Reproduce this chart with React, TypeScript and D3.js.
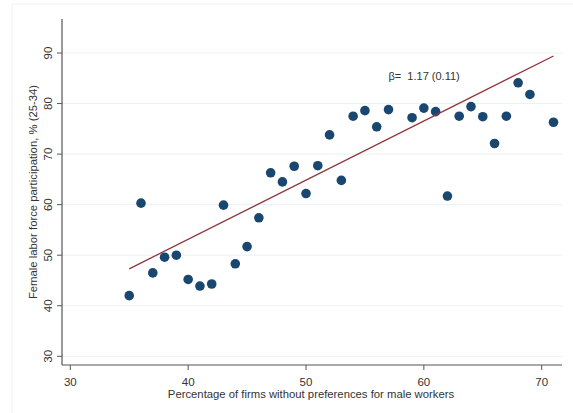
import React from "react";
import * as d3 from "d3";

const xValues = [35, 36, 37, 38, 39, 40, 41, 42, 43, 44, 45, 46, 47, 48, 49, 50, 51, 52, 53, 54, 55, 56, 57, 59, 60, 61, 62, 63, 64, 65, 66, 67, 68, 69, 71];
const yValues = [42.0, 60.3, 46.5, 49.6, 50.0, 45.2, 43.9, 44.3, 59.9, 48.3, 51.7, 57.4, 66.3, 64.5, 67.6, 62.2, 67.7, 73.8, 64.8, 77.5, 78.6, 75.4, 78.8, 77.2, 79.1, 78.4, 61.7, 77.5, 79.4, 77.4, 72.1, 77.5, 84.1, 81.8, 76.3];
const fitX = [35, 71];
const fitY = [47.3, 89.4];
const xTicks = [30, 40, 50, 60, 70];
const yTicks = [30, 40, 50, 60, 70, 80, 90];
const annotation = "β=  1.17 (0.11)";
const annotationPos = [57.0, 84.7];
const xTitle = "Percentage of firms without preferences for male workers";
const yTitle = "Female labor force participation, % (25-34)";

const W = 573;
const H = 413;
const left = 62;
const right = 562;
const top = 19;
const bottom = 365;

export default function App() {
  const x = d3.scaleLinear().domain([30, 70]).range([70.3, 541.7]);
  const y = d3.scaleLinear().domain([30, 90]).range([356.3, 53]);
  const line = d3.line<number>().x((d) => x(fitX[d])).y((d) => y(fitY[d]));
  const font = "'Liberation Sans', Arial, sans-serif";
  const axisColor = "#555";
  return (
    <svg width={W} height={H} style={{ position: "absolute", left: 0, top: 0, background: "#fff" }}>
      <line x1={12} y1={4} x2={W} y2={4} stroke="#eef0f0" />
      <line x1={12} y1={4} x2={12} y2={H} stroke="#eef0f0" />
      {yTicks.map((t) => (
        <line key={"g" + t} x1={left} x2={right} y1={y(t)} y2={y(t)} stroke="#eaf2f3" strokeWidth={1} />
      ))}
      <line x1={left} x2={left} y1={top} y2={bottom} stroke={axisColor} strokeWidth={1.2} />
      <line x1={left} x2={right} y1={bottom} y2={bottom} stroke={axisColor} strokeWidth={1.2} />
      {yTicks.map((t) => (
        <g key={"yt" + t}>
          <line x1={left - 5} x2={left} y1={y(t)} y2={y(t)} stroke={axisColor} />
          <text
            transform={`translate(${52},${y(t)}) rotate(-90)`}
            textAnchor="middle"
            fontFamily={font}
            fontSize={11.5}
            fill="#333"
          >
            {t}
          </text>
        </g>
      ))}
      {xTicks.map((t) => (
        <g key={"xt" + t}>
          <line x1={x(t)} x2={x(t)} y1={bottom} y2={bottom + 5} stroke={axisColor} />
          <text x={x(t)} y={385.5} textAnchor="middle" fontFamily={font} fontSize={11.5} fill="#333">
            {t}
          </text>
        </g>
      ))}
      <text x={311} y={397.5} textAnchor="middle" fontFamily={font} fontSize={11.3} fill="#333">
        {xTitle}
      </text>
      <text
        transform={`translate(${37},${192}) rotate(-90)`}
        textAnchor="middle"
        fontFamily={font}
        fontSize={11.3}
        fill="#333"
      >
        {yTitle}
      </text>
      {xValues.map((v, i) => (
        <circle key={"p" + i} cx={x(v)} cy={y(yValues[i])} r={4.8} fill="#1a476f" />
      ))}
      <path d={line([0, 1]) || ""} stroke="#90353b" strokeWidth={1.3} fill="none" />
      <text
        x={x(annotationPos[0])}
        y={y(annotationPos[1])}
        fontFamily={font}
        fontSize={11}
        fill="#333"
        style={{ whiteSpace: "pre" }}
      >
        {annotation}
      </text>
    </svg>
  );
}
